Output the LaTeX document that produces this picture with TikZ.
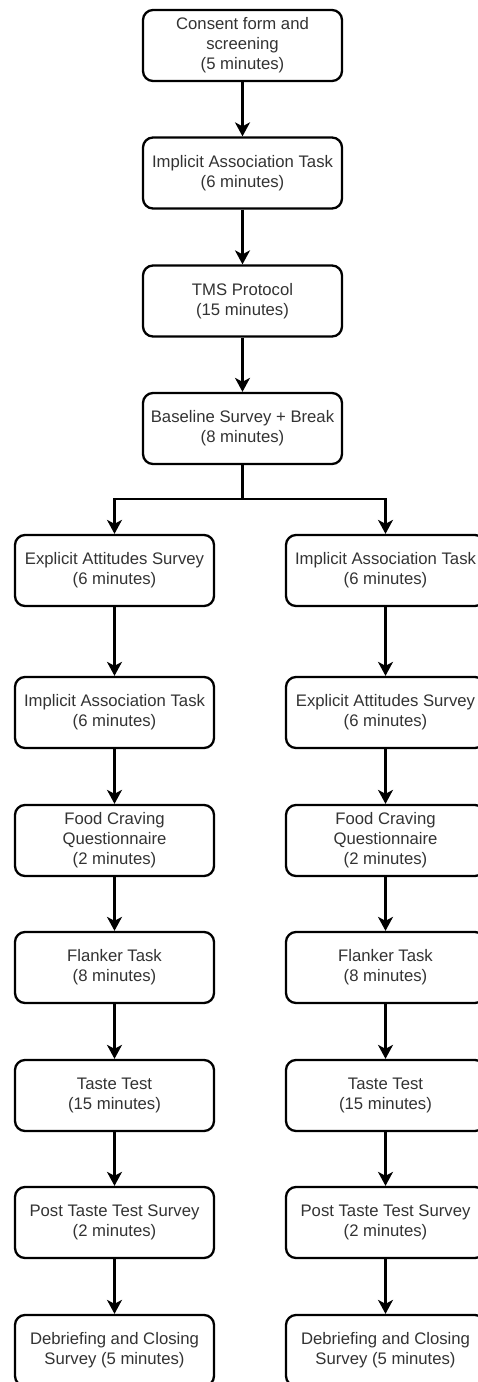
\documentclass[tikz,border=0pt]{standalone}
\usepackage{fontspec}
\setmainfont{Liberation Sans}
\usetikzlibrary{arrows.meta}
\definecolor{txt}{HTML}{333333}
\tikzset{
  stepbox/.style={draw=black, line width=2.3pt, rounded corners=10pt, fill=white,
    minimum width=199pt, minimum height=71pt, align=center, inner sep=2pt,
    text=txt, font=\fontsize{16.7}{20}\selectfont},
  arr/.style={draw=black, line width=2.3pt, -{Stealth[length=14pt,width=15pt,inset=4pt]}},
  ln/.style={draw=black, line width=2.3pt}
}
\begin{document}
\begin{tikzpicture}[x=1pt,y=-1pt]
\useasboundingbox (0,0) rectangle (478,1382);
\clip (0,0) rectangle (478,1382);
% center column
\node[stepbox] (c1) at (242.5,45.5) {Consent form and\\screening\\(5 minutes)};
\node[stepbox] (c2) at (242.5,173) {Implicit Association Task\\(6 minutes)};
\node[stepbox] (c3) at (242.5,301) {TMS Protocol\\(15 minutes)};
\node[stepbox] (c4) at (242.5,428.5) {Baseline Survey + Break\\(8 minutes)};
% left column
\node[stepbox] (l1) at (114.5,570.5) {Explicit Attitudes Survey\\(6 minutes)};
\node[stepbox] (l2) at (114.5,712.5) {Implicit Association Task\\(6 minutes)};
\node[stepbox] (l3) at (114.5,840.5) {Food Craving\\Questionnaire\\(2 minutes)};
\node[stepbox] (l4) at (114.5,967.5) {Flanker Task\\(8 minutes)};
\node[stepbox] (l5) at (114.5,1095.5) {Taste Test\\(15 minutes)};
\node[stepbox] (l6) at (114.5,1222.5) {Post Taste Test Survey\\(2 minutes)};
\node[stepbox] (l7) at (114.5,1350.5) {Debriefing and Closing\\Survey (5 minutes)};
% right column
\node[stepbox] (r1) at (385.5,570.5) {Implicit Association Task\\(6 minutes)};
\node[stepbox] (r2) at (385.5,712.5) {Explicit Attitudes Survey\\(6 minutes)};
\node[stepbox] (r3) at (385.5,840.5) {Food Craving\\Questionnaire\\(2 minutes)};
\node[stepbox] (r4) at (385.5,967.5) {Flanker Task\\(8 minutes)};
\node[stepbox] (r5) at (385.5,1095.5) {Taste Test\\(15 minutes)};
\node[stepbox] (r6) at (385.5,1222.5) {Post Taste Test Survey\\(2 minutes)};
\node[stepbox] (r7) at (385.5,1350.5) {Debriefing and Closing\\Survey (5 minutes)};
% connectors
\draw[arr] (c1) -- (c2);
\draw[arr] (c2) -- (c3);
\draw[arr] (c3) -- (c4);
\coordinate (split) at (242.5,499);
\draw[ln] (c4.south) -- (split);
\draw[arr] (split) -| (l1.north);
\draw[arr] (split) -| (r1.north);
\foreach \a/\b in {l1/l2,l2/l3,l3/l4,l4/l5,l5/l6,l6/l7,r1/r2,r2/r3,r3/r4,r4/r5,r5/r6,r6/r7}{
  \draw[arr] (\a) -- (\b);
}
\end{tikzpicture}
\end{document}
